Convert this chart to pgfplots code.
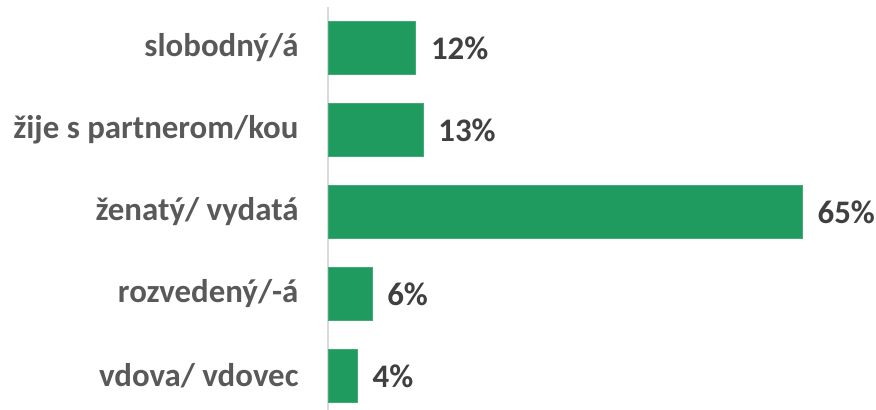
\documentclass[border=0pt]{standalone}
\usepackage{pgfplots}
\pgfplotsset{compat=1.18}
\usepackage{fontspec}
\setmainfont{Carlito}
\definecolor{bargreen}{HTML}{1F9B5F}
\definecolor{labelgray}{HTML}{595959}
\definecolor{valgray}{HTML}{404040}
\definecolor{axisgray}{HTML}{D9D9D9}
\begin{document}
\begin{tikzpicture}
\path[use as bounding box] (0,0) rectangle (876bp,410bp);
\begin{axis}[
  at={(328bp,0bp)}, anchor=south west,
  scale only axis, width=547bp, height=403bp,
  xmin=0, xmax=75,
  ymin=-0.415, ymax=4.5,
  xbar, bar width=53bp,
  axis x line=none,
  axis y line*=left,
  y axis line style={axisgray, line width=1.2bp, -},
  ytick={0,1,2,3,4},
  yticklabels={vdova/ vdovec, rozvedený/-á, ženatý/ vydatá, žije s partnerom/kou, slobodný/á},
  major tick length=0pt,
  /pgf/number format/assume math mode=true,
  yticklabel style={font=\fontsize{33}{36}\selectfont\bfseries, text=labelgray, xshift=-26bp},
  nodes near coords={\pgfmathprintnumber{\pgfplotspointmeta}\%},
  nodes near coords style={font=\fontsize{33}{36}\selectfont\bfseries, text=valgray, anchor=west, xshift=12bp},
  clip=false,
]
\addplot[fill=bargreen, draw=bargreen!85!white] coordinates {(4,0) (6,1) (65,2) (13,3) (12,4)};
\end{axis}
\end{tikzpicture}
\end{document}
